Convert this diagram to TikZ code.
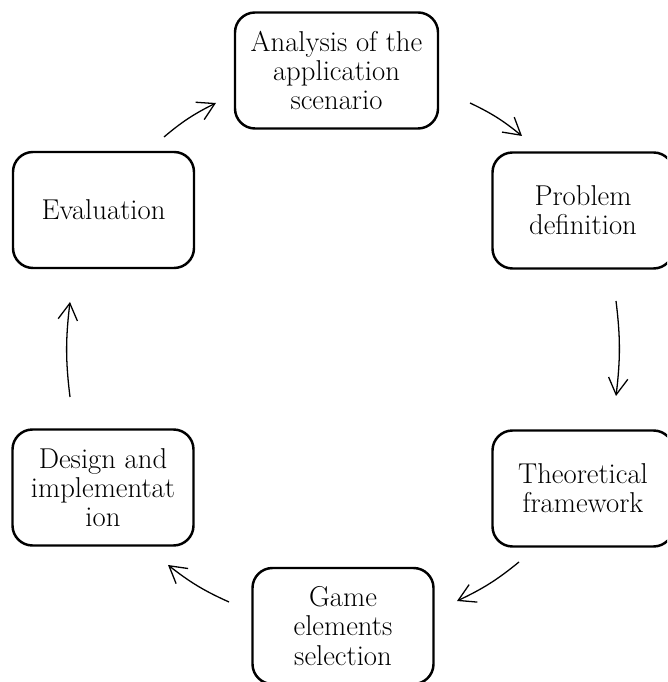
\documentclass[tikz,border=0pt]{standalone}
\usetikzlibrary{arrows.meta,bending}
\begin{document}
\begin{tikzpicture}[x=0.03cm,y=0.03cm,
  stage/.style={draw, line width=2.1pt, rounded corners=0.6cm, rectangle,
    minimum width=5.43cm, minimum height=3.48cm, align=center, inner sep=2pt,
    font=\fontsize{24.5}{25}\selectfont},
  flow/.style={line width=1.1pt, -{Straight Barb[length=5mm,width=5.8mm,line width=1.1pt]}, bend left=7}
]
\useasboundingbox (0,0) rectangle (667,682);
\clip (0,0) rectangle (667,682);

% the six stages of the cycle
\node[stage, minimum width=6.09cm] (ana) at (336.5,611.5) {Analysis of the\\application\\scenario};
\node[stage] (prob) at (583,471.5) {Problem\\definition};
\node[stage] (theo) at (583,193.5) {Theoretical\\framework};
\node[stage] (game) at (343,56) {Game\\elements\\selection};
\node[stage] (des)  at (103,194.5) {Design and\\implementat\\ion};
\node[stage] (eva)  at (103.5,472) {Evaluation};

% free ends of the connecting arrows
\coordinate (a1s) at (164,545); \coordinate (a1e) at (216,579);
\coordinate (a2s) at (470,579); \coordinate (a2e) at (522,546);
\coordinate (a3s) at (616,381); \coordinate (a3e) at (616,286);
\coordinate (a4s) at (519,120); \coordinate (a4e) at (457,81);
\coordinate (a5s) at (229,80);  \coordinate (a5e) at (168,117);
\coordinate (a6s) at (70,285);  \coordinate (a6e) at (70,380);

\draw[flow] (a1s) to (a1e);
\draw[flow] (a2s) to (a2e);
\draw[flow] (a3s) to (a3e);
\draw[flow] (a4s) to (a4e);
\draw[flow] (a5s) to (a5e);
\draw[flow] (a6s) to (a6e);
\end{tikzpicture}
\end{document}
